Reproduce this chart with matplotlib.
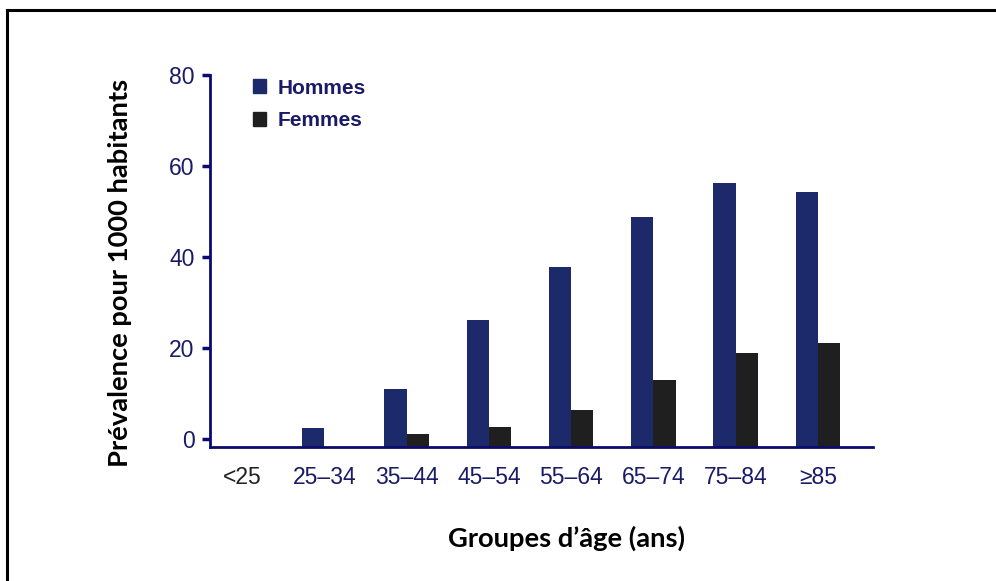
import matplotlib.pyplot as plt
import matplotlib.patches as mpatches
from matplotlib.lines import Line2D
import numpy as np

# data (nan = no bar)
groups = ["<25", "25\u201334", "35\u201344", "45\u201354", "55\u201364", "65\u201374", "75\u201384", "\u226585"]
hommes = [np.nan, 2.4, 11.0, 26.2, 37.8, 48.8, 56.3, 54.3]
femmes = [np.nan, np.nan, 1.1, 2.6, 6.3, 13.0, 18.9, 21.0]
yticks = [0, 20, 40, 60, 80]

navy = "#1c2a6c"
dark = "#1f1f1f"
axis_col = "#0b0b6e"
text_col = "#1a1a66"

fig = plt.figure(figsize=(9.96, 5.81), dpi=100)
W, H = 996, 581

ax = fig.add_axes([210 / W, 1 - 447 / H, (873 - 210) / W, (447 - 75) / H])

y0 = -1.75
x = np.arange(len(groups))
w = 0.27
ax.bar(x - w / 2, np.array(hommes) - y0, w, bottom=y0, color=navy, label="Hommes")
ax.bar(x + w / 2, np.array(femmes) - y0, w, bottom=y0, color=dark, label="Femmes")

ax.set_xlim(-0.39, 7.67)
ax.set_ylim(y0, 80)
ax.set_yticks(yticks)
ax.set_xticks(x)
ax.set_xticklabels(groups)

for s in ["top", "right"]:
    ax.spines[s].set_visible(False)
ax.spines["left"].set_bounds(y0, 80)
for s in ["left", "bottom"]:
    ax.spines[s].set_color(axis_col)
    ax.spines[s].set_linewidth(2)

ax.tick_params(axis="y", length=6, width=2.5, color=axis_col, pad=5,
               labelsize=16.5, labelcolor=text_col)
ax.tick_params(axis="x", length=0, pad=14, labelsize=16.5, labelcolor=text_col)
for lab in ax.get_xticklabels() + ax.get_yticklabels():
    lab.set_fontfamily("Liberation Sans")
ax.get_xticklabels()[0].set_color("#222222")

handles = [mpatches.Patch(color=navy), mpatches.Patch(color=dark)]
leg = ax.legend(handles, ["Hommes", "Femmes"], loc="upper left",
                bbox_to_anchor=(234 / W, 1 - 60 / H), bbox_transform=fig.transFigure,
                frameon=False, handlelength=0.65, handleheight=0.65, handletextpad=0.55,
                labelspacing=0.65, prop={"family": "Liberation Sans", "weight": "bold", "size": 15})
for t in leg.get_texts():
    t.set_color(text_col)

fig.text(120 / W, 1 - 273 / H, "Pr\u00e9valence pour 1000 habitants", rotation=90,
         ha="center", va="center", fontsize=19.7, fontweight="bold", family="Lato")
fig.text(566 / W, 1 - 538 / H, "Groupes d\u2019\u00e2ge (ans)",
         ha="center", va="center", fontsize=19.7, fontweight="bold", family="Lato")

# outer frame, cut at the right and bottom edges
fig.add_artist(Line2D([7 / W, 1.0], [1 - 10 / H, 1 - 10 / H], color="black", lw=2.2))
fig.add_artist(Line2D([7 / W, 7 / W], [0.0, 1 - 10 / H], color="black", lw=2.2))

fig.savefig("out.png", dpi=100)
